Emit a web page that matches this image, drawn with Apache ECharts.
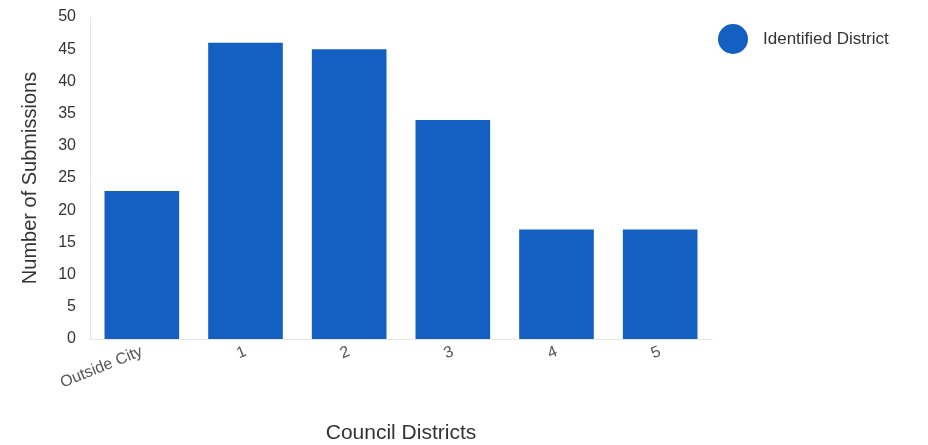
<!DOCTYPE html>
<html>
<head>
<meta charset="utf-8">
<script src="https://cdn.jsdelivr.net/npm/echarts@6/dist/echarts.min.js"></script>
<style>html,body{margin:0;padding:0;background:#fff}#c{width:928px;height:445px}</style>
</head>
<body>
<div id="c"></div>
<script>
const categories = ["Outside City", "1", "2", "3", "4", "5"];
const identifiedDistrict = [23, 46, 45, 34, 17, 17];
const yTicks = { min: 0, max: 50, interval: 5 };

const chart = echarts.init(document.getElementById('c'), null, { renderer: 'canvas' });
chart.setOption({
  animation: false,
  backgroundColor: '#ffffff',
  textStyle: { fontFamily: 'Arial, "Liberation Sans", sans-serif' },
  grid: { left: 90, right: 216, top: 17, bottom: 106, containLabel: false, outerBoundsMode: 'none' },
  legend: {
    data: ['Identified District'],
    left: 713, top: 19,
    icon: 'circle',
    itemWidth: 30, itemHeight: 30,
    textStyle: { fontSize: 17, color: '#333', padding: [0, 0, 0, 10] }
  },
  xAxis: {
    type: 'category',
    data: categories,
    name: 'Council Districts',
    nameLocation: 'middle',
    nameGap: 84,
    nameTextStyle: { fontSize: 21, color: '#333' },
    axisLine: { lineStyle: { color: '#e6e6e6' } },
    axisTick: { show: false },
    axisLabel: { rotate: 22, fontSize: 16, color: '#555', margin: 12 }
  },
  yAxis: {
    type: 'value',
    min: yTicks.min, max: yTicks.max, interval: yTicks.interval,
    name: 'Number of Submissions',
    nameLocation: 'middle',
    nameGap: 50,
    nameTextStyle: { fontSize: 20, color: '#333' },
    axisLine: { show: true, lineStyle: { color: '#e6e6e6' } },
    axisTick: { show: false },
    splitLine: { show: false },
    axisLabel: { fontSize: 16, color: '#333', margin: 14 }
  },
  series: [{
    name: 'Identified District',
    type: 'bar',
    data: identifiedDistrict,
    barCategoryGap: '28%',
    itemStyle: { color: '#145fc2' }
  }]
});
</script>
</body>
</html>
